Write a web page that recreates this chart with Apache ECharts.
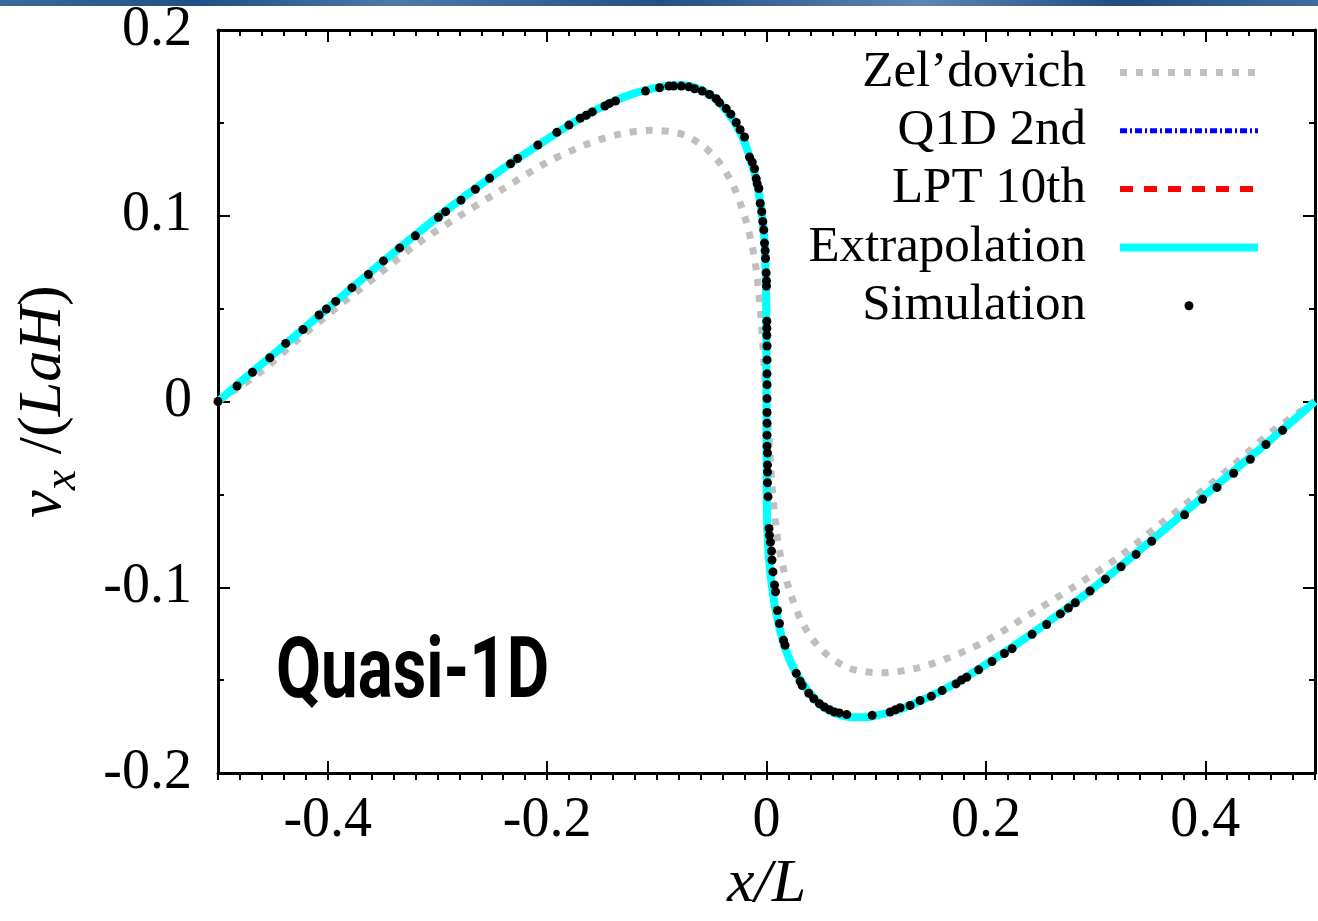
<!DOCTYPE html>
<html>
<head>
<meta charset="utf-8">
<script src="https://cdn.jsdelivr.net/npm/echarts@6/dist/echarts.min.js"></script>
<style>
html,body{margin:0;padding:0;background:#fff;overflow:hidden;}
#chart{width:1318px;height:921px;}
</style>
</head>
<body>
<div id="chart"></div>
<script>
// ---- data ----
const xTickValues = [-0.4, -0.2, 0, 0.2, 0.4];

const simX = [-0.5,-0.4826,-0.4686,-0.4528,-0.4383,-0.4225,-0.4079,-0.4012,-0.3927,-0.3779,-0.3629,-0.3492,-0.3344,-0.3201,-0.2991,-0.2925,-0.2785,-0.2654,-0.2524,-0.2333,-0.2269,-0.2084,-0.1911,-0.1801,-0.1698,-0.1643,-0.1588,-0.1473,-0.1431,-0.1376,-0.1103,-0.0975,-0.0890,-0.0847,-0.0777,-0.0708,-0.0656,-0.0586,-0.0519,-0.0458,-0.0428,-0.0367,-0.0325,-0.0276,-0.0240,-0.0200,-0.0155,-0.0130,-0.0109,-0.0094,-0.0085,-0.0070,-0.0057,-0.0043,-0.0034,-0.0025,-0.0018,-0.0012,-0.0009,-0.0003,0.0000,0.0000,0.0003,0.0003,0.0003,0.0005,0.0005,0.0005,0.0005,0.0005,0.0005,0.0005,0.0005,0.0005,0.0009,0.0009,0.0009,0.0009,0.0014,0.0023,0.0027,0.0036,0.0046,0.0050,0.0059,0.0073,0.0082,0.0100,0.0118,0.0155,0.0169,0.0271,0.0307,0.0325,0.0385,0.0431,0.0483,0.0528,0.0574,0.0620,0.0665,0.0732,0.0963,0.1127,0.1175,0.1218,0.1309,0.1400,0.1503,0.1601,0.1728,0.1777,0.1825,0.1934,0.2056,0.2169,0.2239,0.2421,0.2554,0.2679,0.2752,0.2815,0.2949,0.3089,0.3232,0.3369,0.3511,0.3811,0.3975,0.4107,0.4258,0.4410,0.4553,0.4704];
const simY = [0.0,0.0084,0.0158,0.0236,0.0313,0.0388,0.0466,0.0498,0.0539,0.0613,0.0684,0.0757,0.0827,0.0892,0.0992,0.1022,0.1084,0.1143,0.1202,0.1280,0.1308,0.1381,0.1449,0.1488,0.1525,0.1541,0.1559,0.1591,0.1605,0.1618,0.1671,0.1689,0.1698,0.1698,0.1698,0.1694,0.1684,0.1671,0.1653,0.1630,0.1609,0.1577,0.1547,0.1502,0.1463,0.1424,0.1316,0.1289,0.1253,0.1200,0.1173,0.1147,0.1067,0.1022,0.0969,0.0924,0.0853,0.0812,0.0770,0.0693,0.0649,0.0622,0.0432,0.0395,0.0357,0.0299,0.0224,0.0149,0.0091,0.0016,-0.0059,-0.0117,-0.0181,-0.0240,-0.0277,-0.0341,-0.0379,-0.0437,-0.0512,-0.0683,-0.0720,-0.0757,-0.0805,-0.0853,-0.0917,-0.0987,-0.1024,-0.1125,-0.1195,-0.1285,-0.1312,-0.1463,-0.1506,-0.1529,-0.1570,-0.1600,-0.1627,-0.1644,-0.1659,-0.1671,-0.1676,-0.1685,-0.1689,-0.1671,-0.1659,-0.1648,-0.1636,-0.1609,-0.1586,-0.1556,-0.1520,-0.1499,-0.1484,-0.1444,-0.1399,-0.1356,-0.1330,-0.1253,-0.1200,-0.1143,-0.1111,-0.1083,-0.1020,-0.0956,-0.0889,-0.0823,-0.0752,-0.0610,-0.0526,-0.0462,-0.0386,-0.0311,-0.0231,-0.0155];

const curveX = [-0.5,-0.475,-0.45,-0.425,-0.4,-0.375,-0.35,-0.325,-0.3,-0.275,-0.25,-0.225,-0.2,-0.18,-0.16,-0.14,-0.12,-0.10,-0.09,-0.08,-0.07,-0.06,-0.05,-0.04,-0.03,-0.025,-0.02,-0.015,-0.01,-0.007,-0.004,-0.002,-0.001,-0.0003,0,0.0003,0.001,0.002,0.004,0.007,0.01,0.015,0.02,0.025,0.03,0.04,0.05,0.06,0.07,0.08,0.09,0.10,0.12,0.14,0.16,0.18,0.2,0.225,0.25,0.275,0.3,0.325,0.35,0.375,0.4,0.425,0.45,0.475,0.5];
const extrapY = [0,0.0128,0.0252,0.0377,0.0502,0.0627,0.0752,0.0873,0.0992,0.1105,0.1213,0.1315,0.1412,0.1488,0.1556,0.1614,0.1660,0.1690,0.1700,0.1703,0.1698,0.1678,0.1645,0.1592,0.1512,0.1460,0.1395,0.1310,0.1210,0.1120,0.1000,0.0880,0.0750,0.0550,0,-0.0550,-0.0720,-0.0820,-0.0950,-0.1080,-0.1170,-0.1290,-0.1375,-0.1440,-0.1490,-0.1575,-0.1635,-0.1672,-0.1692,-0.1700,-0.1700,-0.1690,-0.1660,-0.1612,-0.1555,-0.1490,-0.1415,-0.1318,-0.1215,-0.1108,-0.0995,-0.0875,-0.0752,-0.0628,-0.0502,-0.0378,-0.0254,-0.0128,0];
const lptY = [0,0.0128,0.0252,0.0377,0.0502,0.0627,0.0752,0.0873,0.0992,0.1105,0.1213,0.1315,0.1412,0.1488,0.1556,0.1614,0.1660,0.1690,0.1700,0.1703,0.1698,0.1678,0.1645,0.1592,0.1512,0.1460,0.1395,0.1310,0.1210,0.1120,0.1000,0.0880,0.0750,0.0550,0,-0.0550,-0.0720,-0.0820,-0.0950,-0.1080,-0.1170,-0.1290,-0.1375,-0.1440,-0.1490,-0.1575,-0.1635,-0.1672,-0.1692,-0.1700,-0.1700,-0.1690,-0.1660,-0.1612,-0.1555,-0.1490,-0.1415,-0.1318,-0.1215,-0.1108,-0.0995,-0.0875,-0.0752,-0.0628,-0.0502,-0.0378,-0.0254,-0.0128,0];
const q1dY = [0,0.0128,0.0252,0.0377,0.0502,0.0627,0.0752,0.0873,0.0992,0.1105,0.1213,0.1315,0.1412,0.1488,0.1556,0.1614,0.1660,0.1690,0.1700,0.1703,0.1698,0.1678,0.1645,0.1592,0.1512,0.1460,0.1395,0.1310,0.1210,0.1120,0.1000,0.0880,0.0750,0.0550,0,-0.0550,-0.0720,-0.0820,-0.0950,-0.1080,-0.1170,-0.1290,-0.1375,-0.1440,-0.1490,-0.1575,-0.1635,-0.1672,-0.1692,-0.1700,-0.1700,-0.1690,-0.1660,-0.1612,-0.1555,-0.1490,-0.1415,-0.1318,-0.1215,-0.1108,-0.0995,-0.0875,-0.0752,-0.0628,-0.0502,-0.0378,-0.0254,-0.0128,0];

const zelX = [-0.5,-0.46,-0.425,-0.39,-0.355,-0.32,-0.28,-0.24,-0.2,-0.165,-0.135,-0.105,-0.075,-0.05,-0.033,-0.022,-0.014,-0.009,-0.005,-0.002,0,0.002,0.005,0.009,0.014,0.022,0.033,0.05,0.075,0.105,0.135,0.165,0.2,0.24,0.28,0.32,0.355,0.39,0.425,0.46,0.5];
const zelY = [0,0.0165,0.0345,0.0515,0.0678,0.0842,0.0998,0.1145,0.1288,0.1382,0.1438,0.1460,0.1435,0.1335,0.1195,0.1035,0.0865,0.0695,0.0450,0.0180,0,-0.0180,-0.0450,-0.0695,-0.0865,-0.1035,-0.1195,-0.1335,-0.1435,-0.1460,-0.1438,-0.1382,-0.1288,-0.1145,-0.0998,-0.0842,-0.0678,-0.0515,-0.0345,-0.0165,0];

const names = ['Zel\u2019dovich', 'Q1D 2nd', 'LPT 10th', 'Extrapolation', 'Simulation'];

function pairs(xs, ys) { return xs.map((x, i) => [x, ys[i]]); }

const SERIF = '"Liberation Serif", "Times New Roman", serif';
const chart = echarts.init(document.getElementById('chart'), null, {renderer: 'canvas'});

const gridBox = {left: 218, right: 3, top: 30, height: 750};
const majorTick = {show: true, inside: true, length: 12, lineStyle: {color: '#000', width: 2}};
const minorTickX = {show: true, inside: true, length: 6, lineStyle: {color: '#000', width: 2}};
const axisLine = {show: true, onZero: false, lineStyle: {color: '#000', width: 3}};
const hiddenLine = {show: false, onZero: false};

// small dot centred in a wide legend box (keeps legend icon size like the reference)
const dotIcon = 'path://M0,0 M138,14 M64.5,7 a4.5,4.5 0 1,0 9,0 a4.5,4.5 0 1,0 -9,0 Z';

const option = {
  backgroundColor: '#fff',
  animation: false,
  grid: [Object.assign({}, gridBox), Object.assign({}, gridBox)],
  xAxis: [
    {
      gridIndex: 0, type: 'value', position: 'bottom', min: -0.5, max: 0.5,
      axisLine: axisLine,
      axisTick: Object.assign({customValues: xTickValues}, majorTick),
      axisLabel: {customValues: xTickValues, color: '#000', fontFamily: SERIF, fontSize: 56, margin: 20},
      splitLine: {show: false},
      name: 'x/L', nameLocation: 'middle', nameGap: 80,
      nameTextStyle: {color: '#000', fontFamily: SERIF, fontStyle: 'italic', fontSize: 62}
    },
    {
      gridIndex: 0, type: 'value', position: 'top', min: -0.5, max: 0.5,
      axisLine: axisLine,
      axisTick: Object.assign({customValues: xTickValues}, majorTick),
      axisLabel: {show: false}, splitLine: {show: false}
    },
    {
      gridIndex: 1, type: 'value', position: 'bottom', min: -0.5, max: 0.5, interval: 0.02,
      axisLine: hiddenLine, axisTick: minorTickX, axisLabel: {show: false}, splitLine: {show: false}
    },
    {
      gridIndex: 1, type: 'value', position: 'top', min: -0.5, max: 0.5, interval: 0.02,
      axisLine: hiddenLine, axisTick: minorTickX, axisLabel: {show: false}, splitLine: {show: false}
    }
  ],
  yAxis: [
    {
      gridIndex: 0, type: 'value', position: 'left', min: -0.2, max: 0.2, interval: 0.1,
      axisLine: axisLine, axisTick: majorTick,
      minorTick: {show: true, splitNumber: 2, length: 6, lineStyle: {color: '#000', width: 2}},
      axisLabel: {color: '#000', fontFamily: SERIF, fontSize: 56, margin: 26},
      splitLine: {show: false}, minorSplitLine: {show: false},
      name: '{i|v}{sub|x}{n| /(}{i|LaH}{n|)}', nameLocation: 'middle', nameGap: 132, nameRotate: 90,
      nameTextStyle: {
        color: '#000', fontFamily: SERIF, fontSize: 62,
        rich: {
          i: {fontFamily: SERIF, fontStyle: 'italic', fontSize: 62, color: '#000', lineHeight: 84, verticalAlign: 'middle'},
          n: {fontFamily: SERIF, fontSize: 62, color: '#000', lineHeight: 84, verticalAlign: 'middle'},
          sub: {fontFamily: SERIF, fontStyle: 'italic', fontSize: 46, color: '#000', lineHeight: 46, verticalAlign: 'bottom'}
        }
      }
    },
    {
      gridIndex: 0, type: 'value', position: 'right', min: -0.2, max: 0.2, interval: 0.1,
      axisLine: axisLine, axisTick: majorTick,
      minorTick: {show: true, splitNumber: 2, length: 6, lineStyle: {color: '#000', width: 2}},
      axisLabel: {show: false}, splitLine: {show: false}
    },
    {gridIndex: 1, type: 'value', show: false, min: -0.2, max: 0.2}
  ],
  legend: {
    data: [
      {name: names[0]}, {name: names[1]}, {name: names[2]}, {name: names[3]},
      {name: names[4], icon: dotIcon, itemStyle: {opacity: 1, color: '#000'}}
    ],
    orient: 'vertical', align: 'right', right: 56, top: 47,
    itemWidth: 138, itemHeight: 14, itemGap: 7.3, padding: 0, selectedMode: false,
    itemStyle: {opacity: 0},
    lineStyle: {width: 'inherit', type: 'inherit'},
    textStyle: {color: '#000', fontFamily: SERIF, fontSize: 51, lineHeight: 50, padding: [0, 29, 0, 0]}
  },
  series: [
    {
      name: names[0], type: 'line', xAxisIndex: 0, yAxisIndex: 0, symbol: 'none', smooth: 0.3,
      data: pairs(zelX, zelY),
      lineStyle: {color: '#bfbfbf', width: 7, type: [7, 9], cap: 'butt'},
      itemStyle: {color: '#bfbfbf'}, z: 2
    },
    {
      name: names[1], type: 'line', xAxisIndex: 0, yAxisIndex: 0, symbol: 'none', smooth: 0.3,
      data: pairs(curveX, q1dY),
      lineStyle: {color: '#0000ff', width: 5, type: [7, 3, 2, 3], cap: 'butt'},
      itemStyle: {color: '#0000ff'}, z: 3
    },
    {
      name: names[2], type: 'line', xAxisIndex: 0, yAxisIndex: 0, symbol: 'none', smooth: 0.3,
      data: pairs(curveX, lptY),
      lineStyle: {color: '#ff0000', width: 6, type: [13, 11], cap: 'butt'},
      itemStyle: {color: '#ff0000'}, z: 4
    },
    {
      name: names[3], type: 'line', xAxisIndex: 0, yAxisIndex: 0, symbol: 'none', smooth: 0.3,
      data: pairs(curveX, extrapY),
      lineStyle: {color: '#00ffff', width: 8},
      itemStyle: {color: '#00ffff'}, z: 5
    },
    {
      name: names[4], type: 'scatter', xAxisIndex: 0, yAxisIndex: 0, symbol: 'circle', symbolSize: 9,
      data: pairs(simX, simY),
      itemStyle: {color: '#000', opacity: 1}, z: 6
    }
  ],
  graphic: [
    {
      type: 'rect', left: 0, top: 0, z: 100, silent: true,
      shape: {width: 1318, height: 6},
      style: {fill: new echarts.graphic.LinearGradient(0, 0, 1, 0, [
        {offset: 0, color: '#3a6a9a'}, {offset: 0.15, color: '#1f4f86'}, {offset: 0.3, color: '#4b7aa8'},
        {offset: 0.5, color: '#224f85'}, {offset: 0.7, color: '#5a86b0'}, {offset: 0.85, color: '#1e4c82'},
        {offset: 1, color: '#3d6c9c'}])}
    },
    {
      type: 'text', x: 276, y: 632, z: 50, scaleX: 0.76, silent: true,
      style: {text: 'Quasi-1D', font: 'bold 86px Roboto, "DejaVu Sans", sans-serif', fill: '#000'}
    }
  ]
};
chart.setOption(option);
</script>
</body>
</html>
